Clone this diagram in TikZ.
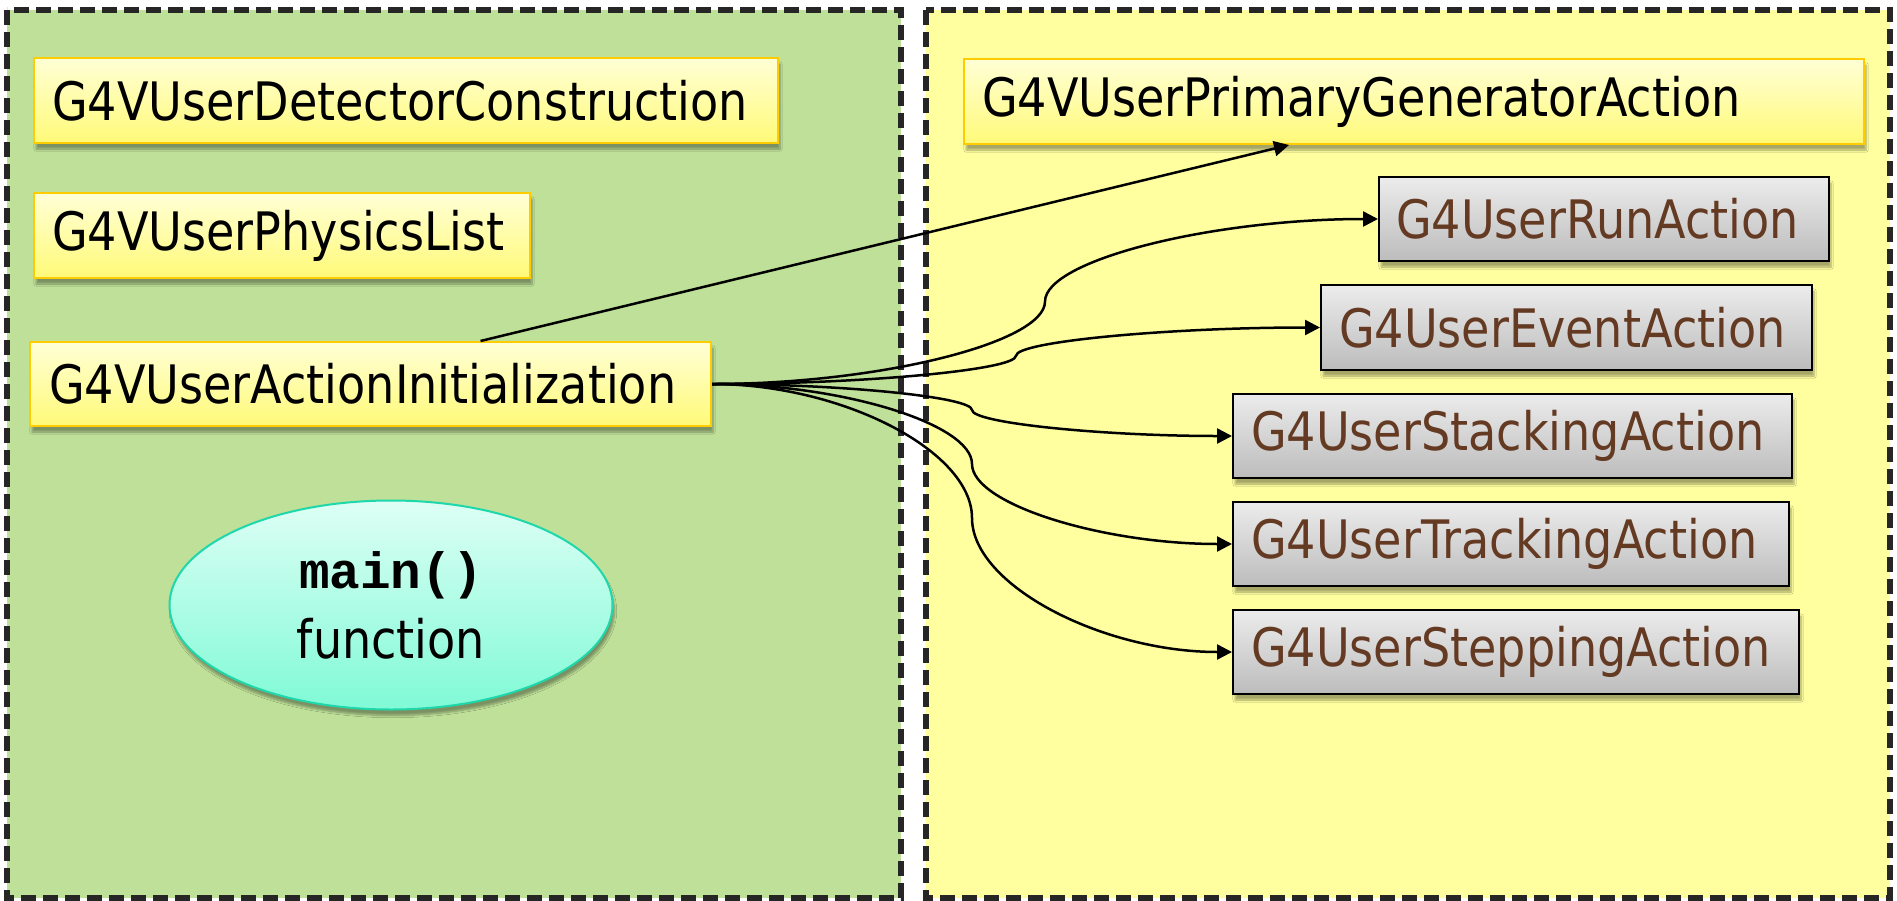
\documentclass[tikz,border=0pt]{standalone}
\usepackage{fontspec}
\setmainfont{DejaVu Sans}[FakeStretch=0.87]
\newfontfamily\codefont{Liberation Mono}
\usetikzlibrary{calc,arrows.meta,shadows.blur,shapes.geometric}
\definecolor{leftbg}{RGB}{190,224,152}
\definecolor{rightbg}{RGB}{255,255,160}
\definecolor{dashc}{RGB}{38,38,38}
\definecolor{ytop}{RGB}{255,255,214}
\definecolor{ybot}{RGB}{255,250,120}
\definecolor{yborder}{RGB}{255,204,0}
\definecolor{gtop}{RGB}{236,236,236}
\definecolor{gbot}{RGB}{188,188,188}
\definecolor{browntext}{RGB}{100,58,35}
\definecolor{etop}{RGB}{222,255,245}
\definecolor{ebot}{RGB}{128,250,214}
\definecolor{eborder}{RGB}{30,215,170}
\begin{document}
\begin{tikzpicture}[x=1pt,y=-1pt,
 panel/.style={line width=6pt, draw=dashc, dash pattern=on 15pt off 7pt},
 softshadow/.style={blur shadow={shadow xshift=2pt, shadow yshift=-6pt, shadow opacity=35, shadow blur steps=6}},
 basebox/.style={anchor=north west, inner xsep=18pt, inner ysep=0pt, align=left,
   font=\fontsize{53}{62}\selectfont, softshadow},
 ybox/.style={basebox, draw=yborder, line width=2pt, top color=ytop, bottom color=ybot, text=black},
 gbox/.style={basebox, draw=black, line width=2pt, top color=gtop, bottom color=gbot, text=browntext},
 conn/.style={line width=2.5pt, -{Triangle[length=15pt,width=15pt]}},
 pcurve/.style={to path={let \p1=(\tikztostart), \p2=(\tikztotarget) in
   .. controls ({0.75*\x1+0.25*\x2},\y1) and ({0.5*\x1+0.5*\x2},{0.75*\y1+0.25*\y2})
   .. ({0.5*\x1+0.5*\x2},{0.5*\y1+0.5*\y2})
   .. controls ({0.5*\x1+0.5*\x2},{0.25*\y1+0.75*\y2}) and ({0.25*\x1+0.75*\x2},\y2)
   .. (\tikztotarget)}}
]
\fill[white] (0,0) rectangle (1897,900);
\useasboundingbox (0,0) rectangle (1897,900);

% panels
\draw[panel, fill=leftbg] (7,10) rectangle (901,898);
\draw[panel, fill=rightbg] (926,10) rectangle (1890,898);

% left boxes
\node[ybox, text width=708pt, minimum height=85pt] (dc) at (33,57) {G4VUserDetectorConstruction};
\node[ybox, text width=460pt, minimum height=85pt] (pl) at (33,192) {G4VUserPhysicsList};
\node[ybox, text width=643pt, minimum height=84pt, inner xsep=19pt] (ai) at (29,341) {G4VUserActionInitialization};

% main function
\node[ellipse, minimum width=443pt, minimum height=209pt, inner sep=0pt, draw=eborder, line width=2pt,
  top color=etop, bottom color=ebot, softshadow, align=center, font=\fontsize{53}{70}\selectfont]
  (mainfn) at (391,605) {{\codefont\bfseries\fontsize{51}{70}\selectfont main()}\\function};

% right boxes
\node[ybox, text width=864pt, minimum height=85pt] (pg) at (963,58) {G4VUserPrimaryGeneratorAction};
\node[gbox, text width=416pt, minimum height=84pt, inner xsep=17pt] (run) at (1378,176) {G4UserRunAction};
\node[gbox, text width=455pt, minimum height=85pt] (event) at (1320,284) {G4UserEventAction};
\node[gbox, text width=523pt, minimum height=84pt] (stack) at (1232,393) {G4UserStackingAction};
\node[gbox, text width=520pt, minimum height=84pt] (track) at (1232,501) {G4UserTrackingAction};
\node[gbox, text width=530pt, minimum height=84pt] (step) at (1232,609) {G4UserSteppingAction};

% connectors
\draw[conn] ([xshift=110pt]ai.north) -- ([xshift=-125pt]pg.south);
\draw[conn] (ai.east) to[pcurve] (run.west);
\draw[conn] (ai.east) to[pcurve] (event.west);
\draw[conn] (ai.east) to[pcurve] (stack.west);
\draw[conn] (ai.east) to[pcurve] (track.west);
\draw[conn] (ai.east) to[pcurve] (step.west);
\end{tikzpicture}
\end{document}
